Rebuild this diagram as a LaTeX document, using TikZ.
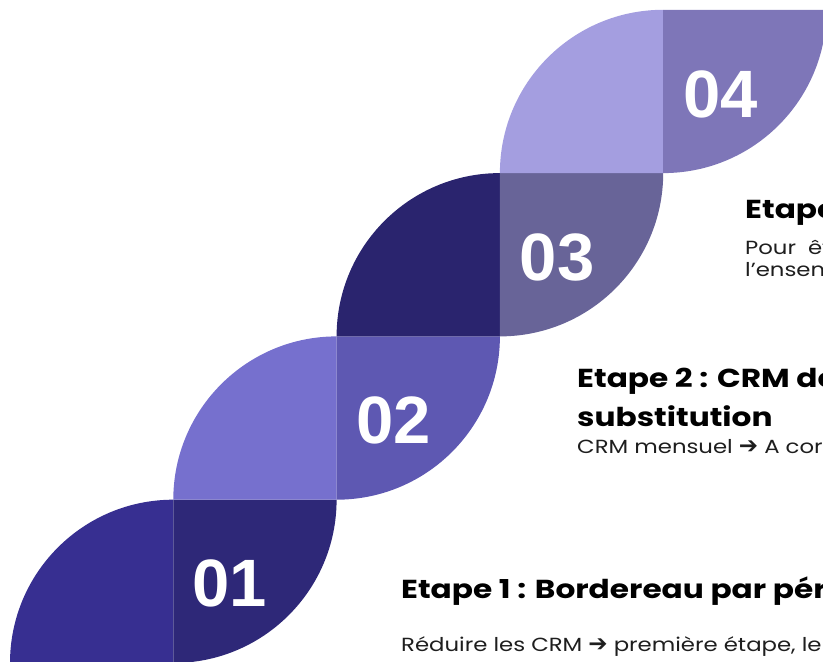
\documentclass[tikz,border=0pt]{standalone}
\usepackage{fontspec}
\setmainfont[FakeStretch=1.2]{Poppins}
\newfontfamily\numfont{Liberation Sans}
\newfontfamily\arrowfont{DejaVu Sans}
\usetikzlibrary{positioning}

\definecolor{leafAl}{HTML}{372F91}
\definecolor{leafAr}{HTML}{2E2878}
\definecolor{leafBl}{HTML}{7670CE}
\definecolor{leafBr}{HTML}{5E58B2}
\definecolor{leafCl}{HTML}{2A246E}
\definecolor{leafCr}{HTML}{686498}
\definecolor{leafDl}{HTML}{A49EE0}
\definecolor{leafDr}{HTML}{7E76B8}
\definecolor{bodygray}{HTML}{1E1E1E}

\newcommand{\thenarrow}{{\arrowfont\fontsize{23}{23}\selectfont\char"2794}}

\begin{document}
\begin{tikzpicture}[x=1pt, y=1pt]

    \tikzstyle{stepnum} = [anchor=base west, inner sep=0pt, text=white, font=\numfont\bfseries\fontsize{67}{67}\selectfont]
    \tikzstyle{title}   = [anchor=base west, inner sep=0pt, font=\bfseries\fontsize{26}{30}\selectfont]
    \tikzstyle{body}    = [anchor=base west, inner sep=0pt, text=bodygray, font=\fontsize{19}{23}\selectfont]

    \clip (0,0) rectangle (823,662);

    % leaves, left half then right half
    \foreach \i/\lc/\rc in {0/leafAl/leafAr, 1/leafBl/leafBr, 2/leafCl/leafCr, 3/leafDl/leafDr} {
        \pgfmathsetmacro{\xa}{10+163.3*\i}
        \pgfmathsetmacro{\ya}{-1+163.3*\i}
        \fill[\lc] (\xa,\ya) arc[start angle=180, end angle=90, radius=163.3pt] -- ++(0,-163.3) -- cycle;
        \fill[\rc] (\xa+163.3,\ya) -- ++(0,163.3) -- ++(163.3,0) arc[start angle=0, end angle=-90, radius=163.3pt] -- cycle;
    }

    \node (n1) [stepnum] at (192,55)       {01};
    \node (n2) [stepnum] at (356.3,218.3)  {02};
    \node (n3) [stepnum] at (519.6,381.6)  {03};
    \node (n4) [stepnum] at (682.9,544.9)  {04};

    \node (t1)  [title] at (401,63)  {Etape 1 : Bordereau par pér};
    \node (d1)  [body, below=53pt of t1.base west, anchor=base west] {Réduire les CRM \thenarrow{} première étape, le b};

    \node (t2)  [title] at (577,274) {Etape 2 : CRM de};
    \node (t2b) [title, below=39pt of t2.base west, anchor=base west]  {substitution};
    \node (d2)  [body, below=27pt of t2b.base west, anchor=base west]  {CRM mensuel \thenarrow{} A corri};

    \node (t3)  [title] at (745,443) {Etape};
    \node (d3)  [body, below=36pt of t3.base west, anchor=base west]   {Pour\hskip 12pt êt};
    \node (d3b) [body, below=22pt of d3.base west, anchor=base west]   {l’ensem};

\end{tikzpicture}
\end{document}
